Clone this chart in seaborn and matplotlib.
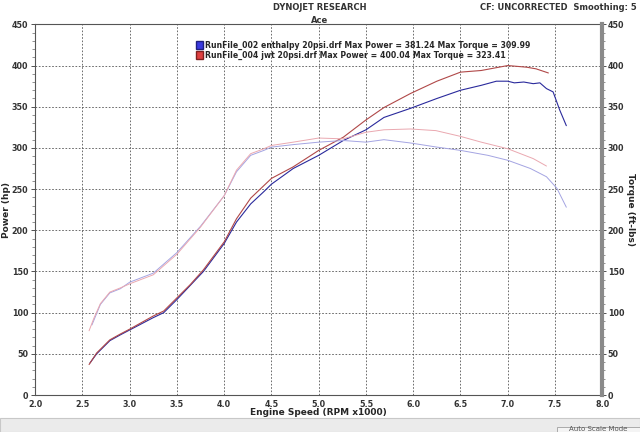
import pandas as pd
import matplotlib.pyplot as plt
import seaborn as sns
from matplotlib.patches import Patch, Rectangle
from matplotlib.ticker import MultipleLocator

# run 002 (blue)
rpm_b_hp = [2.58, 2.65, 2.79, 2.90, 3.00, 3.25, 3.36, 3.50, 3.64, 3.78, 4.00, 4.13, 4.28, 4.42, 4.50, 4.73,
            5.00, 5.26, 5.50, 5.69, 5.97, 6.25, 6.50, 6.72, 6.88, 7.00, 7.07, 7.17, 7.27, 7.34, 7.41, 7.48,
            7.55, 7.62]
hp_b = [39, 50, 66, 73, 79, 94, 100, 116, 133, 150, 184, 210, 232, 247, 256, 275,
        291, 309, 322, 337, 348, 360, 370, 376, 381, 381, 379, 380, 378, 379, 372, 368,
        346, 327]
rpm_b_tq = [2.60, 2.69, 2.79, 2.90, 3.00, 3.25, 3.50, 3.75, 4.00, 4.13, 4.28, 4.42, 4.50, 4.73, 5.00,
            5.26, 5.50, 5.69, 5.97, 6.25, 6.50, 6.79, 7.00, 7.24, 7.41, 7.52, 7.62]
tq_b = [85, 110, 124, 129, 137, 148, 173, 205, 242, 271, 291, 297, 301, 304, 307,
        309, 307, 310, 306, 301, 297, 291, 285, 275, 265, 251, 228]

# run 004 (red)
rpm_r_hp = [2.57, 2.65, 2.79, 2.90, 3.00, 3.25, 3.36, 3.50, 3.64, 3.78, 4.00, 4.13, 4.28, 4.50, 4.73,
            5.00, 5.26, 5.50, 5.69, 5.97, 6.25, 6.50, 6.72, 7.00, 7.20, 7.30, 7.43]
hp_r = [37, 51, 67, 74, 80, 96, 102, 118, 134, 152, 186, 214, 239, 263, 277,
        297, 313, 334, 349, 366, 381, 392, 394, 400, 398, 396, 391]
rpm_r_tq = [2.57, 2.62, 2.69, 2.79, 2.90, 3.00, 3.25, 3.50, 3.75, 4.00, 4.13, 4.28, 4.42, 4.50, 4.73,
            5.00, 5.26, 5.50, 5.69, 5.97, 6.24, 6.50, 6.72, 7.00, 7.27, 7.41]
tq_r = [78, 93, 111, 125, 130, 135, 146, 171, 204, 242, 273, 293, 299, 303, 307,
        312, 311, 319, 322, 323, 321, 314, 307, 299, 287, 278]

legend_labels = ['RunFile_002 enthalpy 20psi.drf Max Power = 381.24 Max Torque = 309.99',
                 'RunFile_004 jwt 20psi.drf Max Power = 400.04 Max Torque = 323.41']

sns.set_style('white')
plt.rcParams['font.family'] = ['DejaVu Sans']

fig = plt.figure(figsize=(6.4, 4.32), dpi=100)
ax = fig.add_axes([0.055, 0.0856, 0.886, 0.858])
ax2 = ax.twinx()

sns.lineplot(x=rpm_b_hp, y=hp_b, ax=ax, color='#2a2a9c', linewidth=0.8)
sns.lineplot(x=rpm_r_hp, y=hp_r, ax=ax, color='#b04848', linewidth=0.8)
sns.lineplot(x=rpm_b_tq, y=tq_b, ax=ax2, color='#a4a4e2', linewidth=0.7)
sns.lineplot(x=rpm_r_tq, y=tq_r, ax=ax2, color='#eaa8b0', linewidth=0.7)

for a in (ax, ax2):
    a.set_xlim(2.0, 8.0)
    a.set_ylim(0, 450)
    a.yaxis.set_major_locator(MultipleLocator(50))
    a.yaxis.set_minor_locator(MultipleLocator(10))
    a.tick_params(labelsize=5.8, colors='#333333', length=3, width=0.6, pad=2)
    a.tick_params(which='minor', length=2, width=0.5, color='#666666')
    for t in a.get_yticklabels():
        t.set_fontweight('bold')
ax2.tick_params(pad=1)

ax.xaxis.set_major_locator(MultipleLocator(0.5))
ax.xaxis.set_minor_locator(MultipleLocator(0.1))
ax.tick_params(axis='x', which='both', direction='in')
ax.tick_params(axis='x', pad=3.5)
ax.set_xticklabels([f'{v:.1f}' for v in ax.get_xticks()], fontweight='bold')
ax.grid(True, which='major', linestyle=(0, (2, 2)), color='#555555', linewidth=0.6)

for s in ax.spines.values():
    s.set_color('#555555')
    s.set_linewidth(0.8)
ax2.spines['right'].set_color('#8a8a8a')
ax2.spines['right'].set_linewidth(3)
ax2.spines['left'].set_visible(False)
ax2.spines['top'].set_visible(False)
ax2.spines['bottom'].set_visible(False)

ax.set_xlabel('Engine Speed (RPM x1000)', fontsize=6.5, fontweight='bold', va='center')
ax.xaxis.set_label_coords(0.5, -0.046)
ax.set_ylabel('Power (hp)', fontsize=6.5, fontweight='bold')
ax.yaxis.set_label_coords(-0.042, 0.5)
ax2.set_ylabel('Torque (ft-lbs)', fontsize=6.5, fontweight='bold', rotation=-90, va='center')
ax2.yaxis.set_label_coords(1.05, 0.5)

handles = [Patch(facecolor='#3a3ae0', edgecolor='#202080'),
           Patch(facecolor='#e04040', edgecolor='#802020')]
ax.legend(handles, legend_labels, loc='upper left', bbox_to_anchor=(0.272, 0.975), frameon=False,
          handlelength=0.8, handleheight=1.2, handletextpad=0.3, labelspacing=0.1,
          prop={'weight': 'bold', 'size': 5.6})

fig.text(0.5, 0.992, 'DYNOJET RESEARCH', ha='center', va='top', fontsize=6, fontweight='bold', color='#333333')
fig.text(0.5, 0.964, 'Ace', ha='center', va='top', fontsize=6, fontweight='bold', color='#333333')
fig.text(0.995, 0.992, 'CF: UNCORRECTED  Smoothing: 5', ha='right', va='top', fontsize=6,
         fontweight='bold', color='#333333')

# bottom status bar
fig.patches.append(Rectangle((0, 0), 1, 0.033, transform=fig.transFigure, facecolor='#ebebeb',
                             edgecolor='#c8c8c8', linewidth=0.8))
fig.patches.append(Rectangle((0.87, 0), 0.13, 0.012, transform=fig.transFigure, facecolor='#f4f4f4',
                             edgecolor='#a0a0a0', linewidth=0.6))
fig.text(0.935, 0.0, 'Auto Scale Mode', ha='center', va='bottom', fontsize=5, color='#555555')

fig.savefig('out.png', dpi=100)
